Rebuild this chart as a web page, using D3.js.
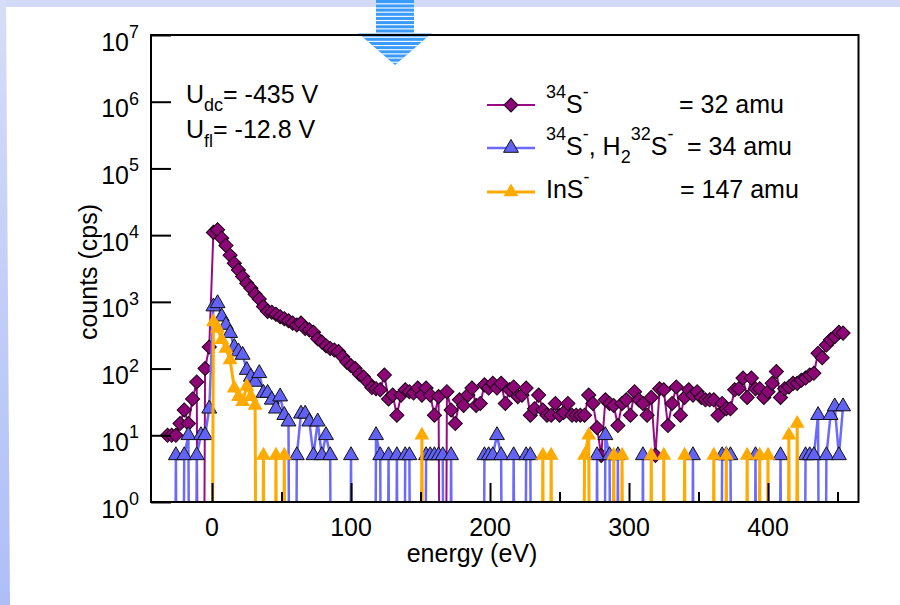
<!DOCTYPE html>
<html>
<head>
<meta charset="utf-8">
<script src="https://cdn.jsdelivr.net/npm/d3@7"></script>
<style>
  body { margin: 0; background: #fff; }
  svg { display: block; font-family: 'Liberation Sans', Arial, Helvetica, sans-serif; }
</style>
</head>
<body>
<script>
// energy scan (eV), one value per step
var energy = [-32,-29,-26,-23,-20,-17,-14,-11,-8,-5,
    -2,1,4,7,10,13,16,19,22,25,
    28,31,34,37,40,43,46,49,52,55,
    58,61,64,67,70,73,76,79,82,85,
    88,91,94,97,100,103,106,109,112,115,
    118,121,124,127,130,133,136,139,142,145,
    148,151,154,157,160,163,166,169,172,175,
    178,181,184,187,190,193,196,199,202,205,
    208,211,214,217,220,223,226,229,232,235,
    238,241,244,247,250,253,256,259,262,265,
    268,271,274,277,280,283,286,289,292,295,
    298,301,304,307,310,313,316,319,322,325,
    328,331,334,337,340,343,346,349,352,355,
    358,361,364,367,370,373,376,379,382,385,
    388,391,394,397,400,403,406,409,412,415,
    418,421,424,427,430,433,436,439,442,445,
    448,451,454];

// counts (cps), 0 = nothing counted
var counts32 = [10,10,10,15,24,15,35,63,0,100,
    210,11000,12000,9000,7000,5000,3800,3000,2400,1900,
    1600,1300,1100,850,720,700,650,600,560,520,
    480,450,480,400,380,350,280,250,220,200,
    190,180,150,125,110,100,82,75,63,52,
    50,48,80,35,40,20,40,48,45,43,
    51,40,51,40,20,38,0,45,24,15,
    34,28,40,51,28,30,57,51,60,51,
    60,30,48,53,38,40,51,20,25,40,
    24,20,20,30,20,22,30,20,20,20,
    20,40,30,13,5,34,30,28,14,30,
    34,20,45,34,30,20,37,5,50,48,
    14,30,53,20,37,48,40,45,37,34,
    34,34,20,30,25,25,48,50,72,37,
    72,50,50,37,45,60,90,37,50,53,
    60,60,67,72,80,85,170,145,225,270,
    300,350,340];

var counts34 = [0,0,5,0,5,10,0,5,10,10,
    25,850,950,600,450,340,210,180,160,95,
    75,63,85,43,43,34,25,38,20,16,
    0,5,21,21,16,5,16,5,10,5,
    0,0,0,0,5,0,0,0,0,0,
    10,5,0,5,0,5,0,5,5,0,
    0,0,5,5,5,5,5,0,5,0,
    0,0,0,0,0,0,5,5,5,10,
    5,0,0,5,0,0,5,5,0,0,
    0,0,0,0,0,0,0,0,0,0,
    0,0,0,5,0,10,5,0,5,0,
    0,0,0,0,5,0,0,0,0,0,
    0,0,0,0,0,0,5,0,0,0,
    0,0,0,5,5,5,0,0,0,0,
    0,5,0,0,0,0,0,5,0,0,
    0,0,0,5,5,5,20,0,5,20,
    27,5,27];

var counts147 = [0,0,0,0,0,0,0,0,0,0,
    0,500,400,270,200,135,51,38,32,54,
    38,28,0,5,0,0,5,0,5,0,
    0,0,0,0,0,0,0,0,0,0,
    0,0,0,0,0,0,0,0,0,0,
    0,0,0,0,0,0,0,0,0,0,
    0,10,0,0,0,0,0,0,0,0,
    0,0,0,0,0,0,0,0,0,0,
    0,0,0,0,0,0,0,0,0,0,
    5,0,5,0,0,0,0,0,0,0,
    5,10,0,0,0,0,0,5,0,5,
    0,0,0,0,0,0,5,0,0,5,
    0,0,0,0,5,0,0,0,0,0,
    0,5,0,0,5,0,0,0,0,5,
    0,0,5,0,5,0,0,0,0,10,
    0,15,0,0,0,0,0,0,0,0,
    0,0,0];

var xMajorTicks = [0, 100, 200, 300, 400];
var xMinorTicks = [50, 150, 250, 350, 450];
var yDecades = [0, 1, 2, 3, 4, 5, 6, 7];

var W = 900, H = 605;
var plotL = 151, plotR = 858.5, plotT = 35, plotB = 502;
var fnt = 25, small = 18;

var svg = d3.select("body").append("svg").attr("width", W).attr("height", H);
var defs = svg.append("defs");

// page background
var grad = defs.append("linearGradient").attr("id", "sideGrad").attr("x1", 0).attr("y1", 0).attr("x2", 0).attr("y2", 1);
grad.append("stop").attr("offset", "0%").attr("stop-color", "#d6ddf8");
grad.append("stop").attr("offset", "100%").attr("stop-color", "#aebff8");
svg.append("rect").attr("width", W).attr("height", H).attr("fill", "#fff");
svg.append("rect").attr("width", W).attr("height", 7).attr("fill", "#d2daf8");
svg.append("path").attr("d", "M0,0L6,0L10," + H + "L0," + H + "Z").attr("fill", "url(#sideGrad)");

// striped arrow
var arrowPath = "M376,0L414,0L414,33L432,33L395,65L358,33L376,33Z";
defs.append("clipPath").attr("id", "arrowClip").append("path").attr("d", arrowPath);
svg.append("path").attr("d", arrowPath).attr("fill", "#3a9bfb");
var stripes = svg.append("g").attr("clip-path", "url(#arrowClip)");
for (var sy = 3.3; sy < 66; sy += 4.17) {
    stripes.append("rect").attr("x", 350).attr("y", sy).attr("width", 90).attr("height", 1.1).attr("fill", "#fff");
}

var x = d3.scaleLinear().domain([-43.9, 465.1]).range([plotL, plotR]);
var y = d3.scaleLog().domain([1, 1e7]).range([plotB, plotT]);

defs.append("clipPath").attr("id", "plotClip").append("rect")
    .attr("x", plotL).attr("y", plotT).attr("width", plotR - plotL).attr("height", plotB - plotT);

function rich(parent, px, py, segs, anchor, supUp, subDown) {
    var t = parent.append("text").attr("x", px).attr("y", py)
        .attr("text-anchor", anchor || "start").style("font-size", fnt + "px").attr("fill", "#000");
    var cur = 0;
    segs.forEach(function (s) {
        var off = s[1] === "sup" ? -supUp : (s[1] === "sub" ? subDown : 0);
        var ts = t.append("tspan").attr("dy", off - cur).text(s[0]);
        if (s[1]) ts.style("font-size", small + "px");
        cur = off;
    });
    return t;
}

// series
var series = [
    {vals: counts32, line: "#990a86", fill: "#8c0676", stroke: "#1a0016", width: 2, shape: "diamond"},
    {vals: counts34, line: "#6a6aff", fill: "#6262f6", stroke: "#111", width: 2.5, shape: "triangle"},
    {vals: counts147, line: "#ffaa00", fill: "#ffaa00", stroke: "none", width: 3, shape: "triangle"}
];

var diamond = d3.symbol().type(d3.symbolSquare).size(100)();
var triangle = d3.symbol().type(d3.symbolTriangle).size(96)();

function marker(g, s, px, py) {
    if (s.shape === "diamond") {
        g.append("path").attr("d", diamond)
            .attr("transform", "translate(" + px + "," + py + ") rotate(45)")
            .attr("fill", s.fill).attr("stroke", s.stroke).attr("stroke-width", 1);
    } else {
        g.append("path").attr("d", triangle)
            .attr("transform", "translate(" + px + "," + py + ")")
            .attr("fill", s.fill).attr("stroke", s.stroke).attr("stroke-width", 1);
    }
}

var plot = svg.append("g").attr("clip-path", "url(#plotClip)");
var line = d3.line()
    .x(function (d) { return x(d.e); })
    .y(function (d) { return y(Math.max(d.c, 1e-12)); });

series.forEach(function (s) {
    var pts = energy.map(function (e, i) { return {e: e, c: s.vals[i]}; });
    plot.append("path").datum(pts).attr("d", line)
        .attr("fill", "none").attr("stroke", s.line).attr("stroke-width", s.width)
        .attr("stroke-linejoin", "round");
    var mg = plot.append("g");
    pts.filter(function (d) { return d.c > 0; }).forEach(function (d) {
        marker(mg, s, x(d.e), y(d.c));
    });
});

// frame
svg.append("rect").attr("x", plotL).attr("y", plotT).attr("width", plotR - plotL).attr("height", plotB - plotT)
    .attr("fill", "none").attr("stroke", "#000").attr("stroke-width", 2);

// axes
var xAxis = svg.append("g").attr("transform", "translate(0," + plotB + ")")
    .call(d3.axisBottom(x).tickValues(xMajorTicks).tickSize(-19).tickFormat(""));
var xAxisMinor = svg.append("g").attr("transform", "translate(0," + plotB + ")")
    .call(d3.axisBottom(x).tickValues(xMinorTicks).tickSize(-10).tickFormat(""));
var yAxis = svg.append("g").attr("transform", "translate(" + plotL + ",0)")
    .call(d3.axisLeft(y).tickValues(yDecades.map(function (p) { return Math.pow(10, p); })).tickSize(-20).tickFormat(""));
[xAxis, xAxisMinor, yAxis].forEach(function (a) {
    a.select(".domain").remove();
    a.selectAll(".tick line").attr("stroke", "#000").attr("stroke-width", 2);
});

xMajorTicks.forEach(function (v) {
    svg.append("text").attr("x", x(v)).attr("y", 536).attr("text-anchor", "middle")
        .style("font-size", fnt + "px").text(v);
});
yDecades.forEach(function (p) {
    rich(svg, 139, y(Math.pow(10, p)) + 15.5, [["10"], [String(p), "sup"]], "end", 12.5, 0);
});

svg.append("text").attr("x", 472).attr("y", 562).attr("text-anchor", "middle")
    .style("font-size", fnt + "px").text("energy (eV)");
svg.append("text").attr("transform", "translate(97,272) rotate(-90)").attr("text-anchor", "middle")
    .style("font-size", fnt + "px").text("counts (cps)");

// bias annotation
rich(svg, 186, 103, [["U"], ["dc", "sub"], ["= -435 V"]], "start", 0, 8);
rich(svg, 186, 138, [["U"], ["fl", "sub"], ["= -12.8 V"]], "start", 0, 9);

// legend
var legend = [
    {s: series[0], ly: 105, ty: 113, segs: [["34", "sup"], ["S"], ["-", "sup"]], eqx: 679, eq: "= 32 amu"},
    {s: series[1], ly: 148, ty: 155, segs: [["34", "sup"], ["S"], ["-", "sup"], [", H"], ["2", "sub"], ["32", "sup"], ["S"], ["-", "sup"]], eqx: 687, eq: "= 34 amu"},
    {s: series[2], ly: 192, ty: 198, segs: [["InS"], ["-", "sup"]], eqx: 680, eq: "= 147 amu"}
];
var lg = svg.append("g");
legend.forEach(function (r) {
    lg.append("line").attr("x1", 487).attr("x2", 535).attr("y1", r.ly).attr("y2", r.ly)
        .attr("stroke", r.s.line).attr("stroke-width", r.s.width);
    marker(lg, r.s, 511, r.ly);
    rich(lg, 546, r.ty, r.segs, "start", 15, 8);
    lg.append("text").attr("x", r.eqx).attr("y", r.ty).style("font-size", fnt + "px").text(r.eq);
});
</script>
</body>
</html>
